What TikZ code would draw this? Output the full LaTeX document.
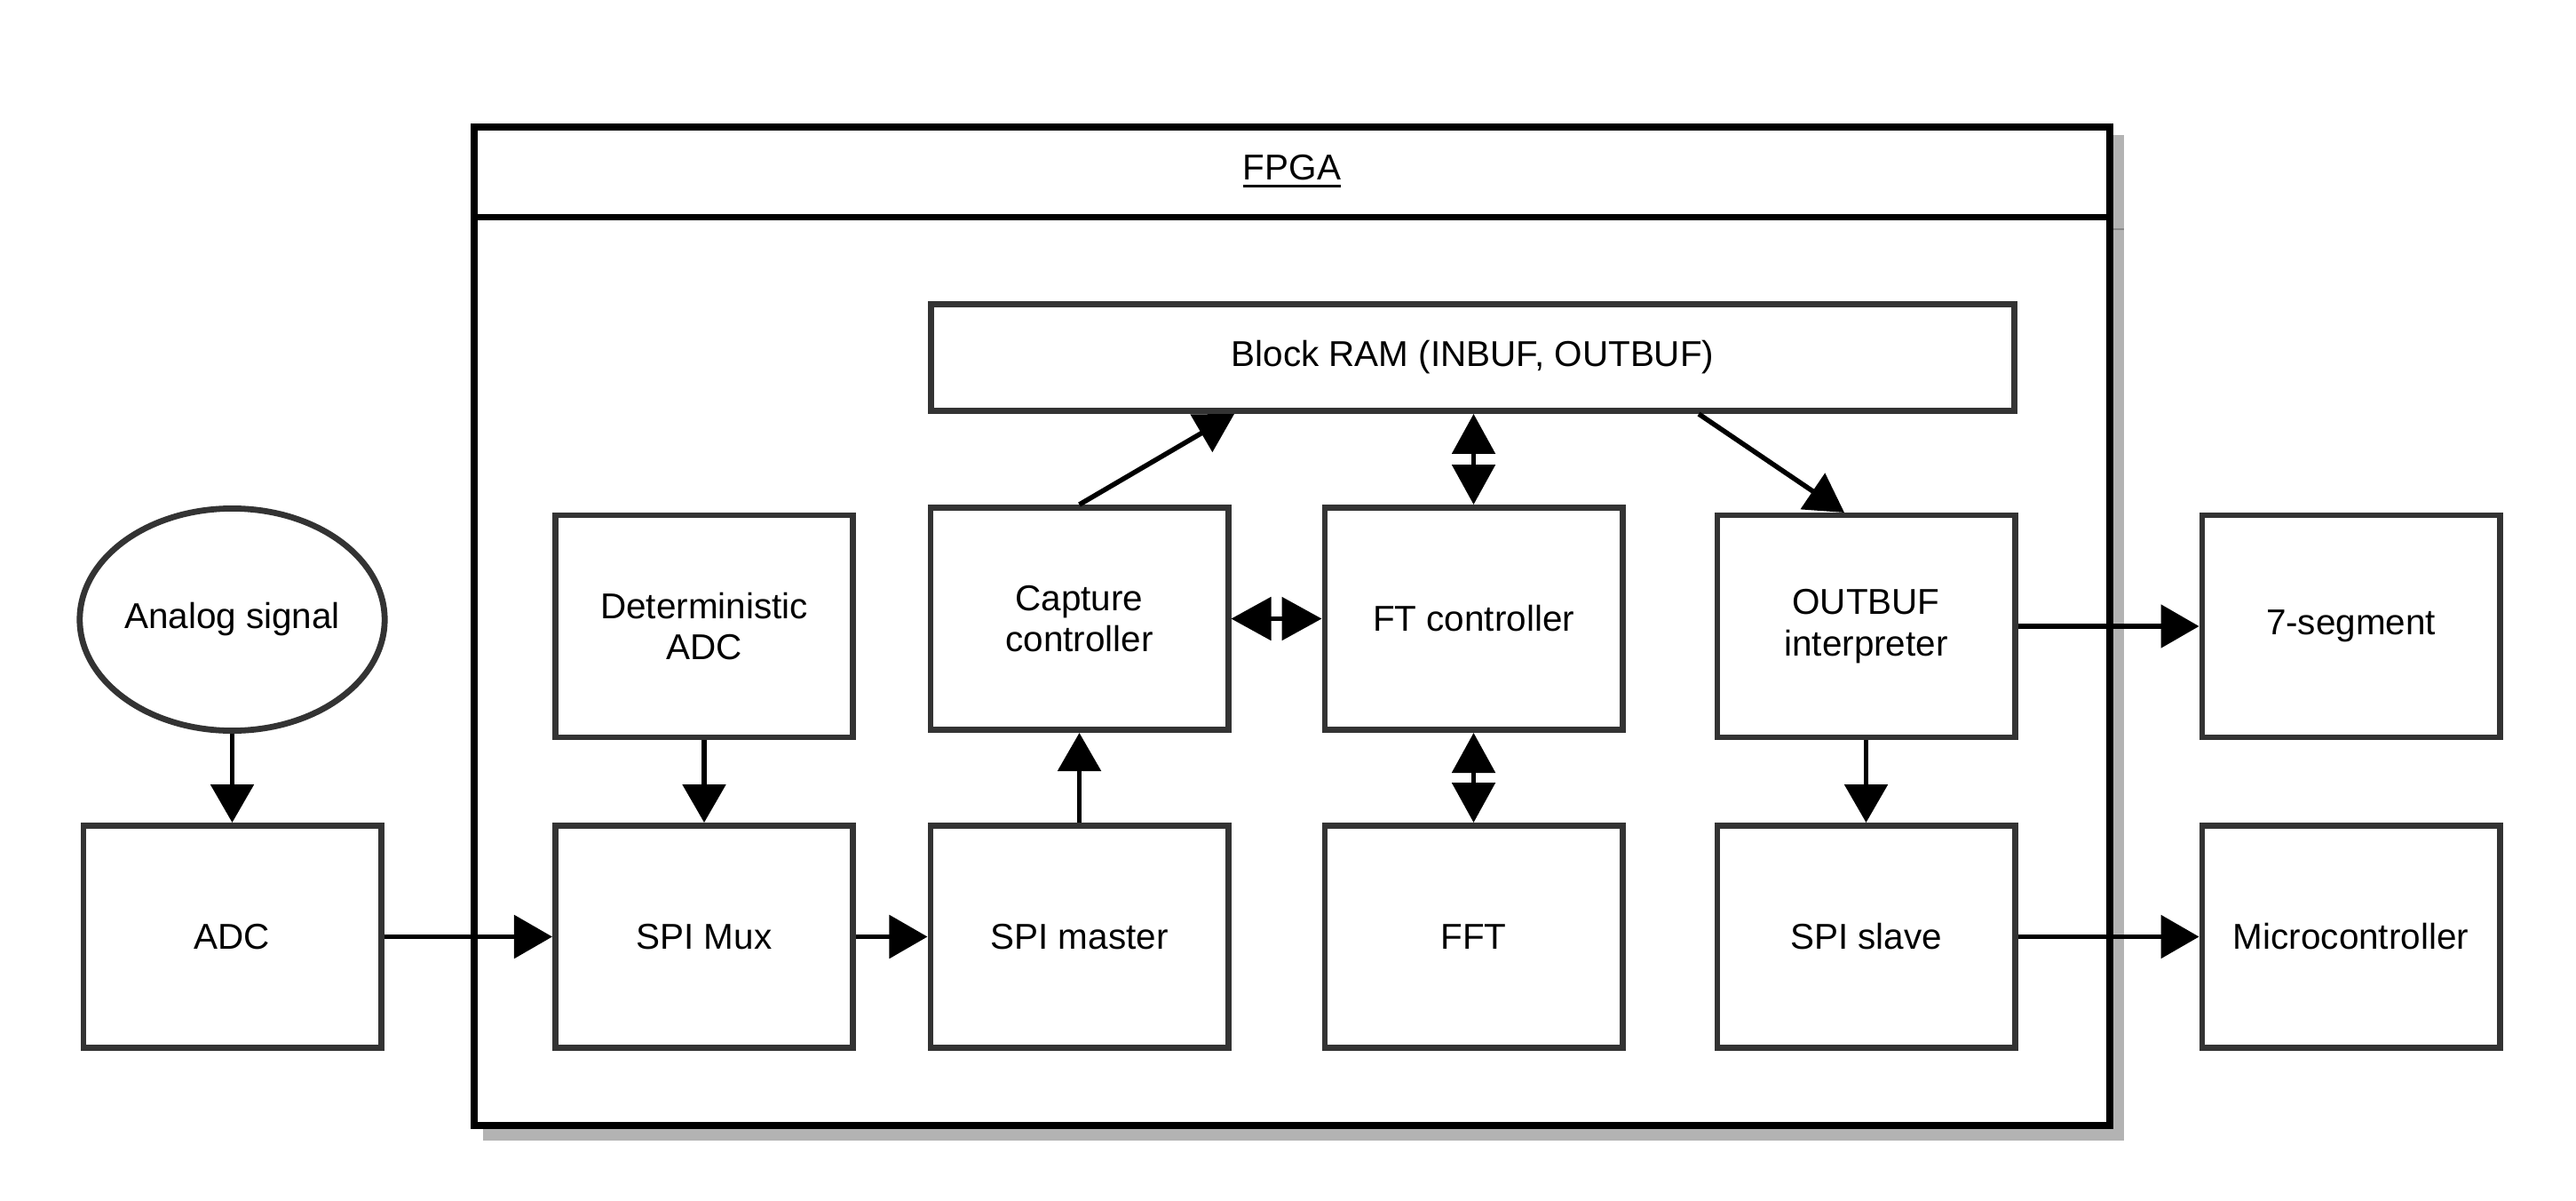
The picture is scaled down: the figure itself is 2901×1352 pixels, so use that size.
\documentclass[tikz,border=0pt]{standalone}
\usepackage{fontspec}
\setmainfont{Liberation Sans}
\usetikzlibrary{arrows.meta,shapes.geometric}
\definecolor{bord}{HTML}{333333}
\definecolor{shadowgray}{HTML}{B3B3B3}
\definecolor{shadowline}{HTML}{888888}
\newcommand{\thickul}[1]{\setbox0\hbox{#1}\leavevmode\rlap{\rule[-0.085cm]{\wd0}{0.03cm}}\box0}
\begin{document}
\begin{tikzpicture}[x=0.01cm,y=-0.01cm,
  txt/.style={font=\fontsize{11.5}{13.2}\selectfont, align=center},
  blk/.style={txt, draw=bord, line width=0.068cm, fill=white,
    minimum width=3.35cm, minimum height=2.5cm, inner sep=0pt},
  oval/.style={blk, ellipse},
  conn/.style={line width=0.055cm, -{Triangle[length=0.43cm,width=0.48cm]}},
  dconn/.style={line width=0.055cm,
    {Triangle[length=0.45cm,width=0.48cm]}-{Triangle[length=0.45cm,width=0.48cm]}}]
\useasboundingbox (0,0) rectangle (2901,1352);

% FPGA container with shadow
\fill[shadowgray] (544,152) rectangle (2392,1284);
\draw[shadowline, line width=0.02cm] (2379,258) -- (2392,258);
\node[draw=black, line width=0.08cm, fill=white, minimum width=18.4cm,
  minimum height=11.24cm, inner sep=0pt] (fpga) at (1455,705) {};
\draw[black, line width=0.07cm] (535,245) -- (2375,245);
\node[txt] (fpgatitle) at (1455,193) {\thickul{FPGA}};

% blocks
\node[oval] (analog) at (261.5,697.5) {Analog signal};
\node[blk] (adc) at (261.5,1054.5) {ADC};
\node[blk] (det) at (793,705) {Deterministic\\ADC};
\node[blk] (mux) at (793,1054.5) {SPI Mux};
\node[blk] (cap) at (1215.5,696.5) {Capture\\controller};
\node[blk] (master) at (1215.5,1054.5) {SPI master};
\node[blk] (ft) at (1659.5,696.5) {FT controller};
\node[blk] (fft) at (1659.5,1054.5) {FFT};
\node[blk] (outb) at (2101.5,705) {OUTBUF\\interpreter};
\node[blk] (slave) at (2101.5,1054.5) {SPI slave};
\node[blk] (seg) at (2647.5,705) {7-segment};
\node[blk] (mcu) at (2647.5,1054.5) {Microcontroller};
\node[blk, minimum width=12.2cm, minimum height=1.2cm] (bram) at (1658.5,402.5)
  {Block RAM (INBUF, OUTBUF)};

\coordinate (ramA) at (1390,466);
\coordinate (ramB) at (1913,466);
\coordinate (obIn) at (2077,577);

% connectors
\draw[conn] (analog.south) -- (adc.north);
\draw[conn] (adc.east) -- (mux.west);
\draw[conn] (det.south) -- (mux.north);
\draw[conn] (mux.east) -- (master.west);
\draw[conn] (master.north) -- (cap.south);
\draw[conn] (cap.north) -- (ramA);
\draw[dconn] (ft.north |- bram.south) -- (ft.north);
\draw[dconn] (cap.east) -- (ft.west);
\draw[dconn] (ft.south) -- (fft.north);
\draw[conn] (ramB) -- (obIn);
\draw[conn] (outb.east) -- (seg.west);
\draw[conn] (outb.south) -- (slave.north);
\draw[conn] (slave.east) -- (mcu.west);
\end{tikzpicture}
\end{document}
